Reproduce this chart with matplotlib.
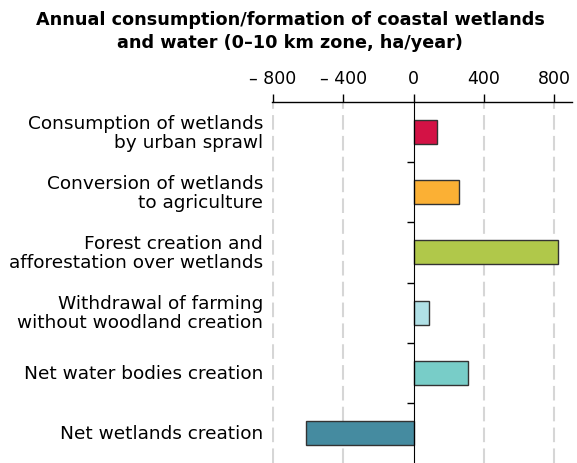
import numpy as np
import matplotlib.pyplot as plt
from matplotlib.transforms import blended_transform_factory

categories = [
    "Consumption of wetlands\nby urban sprawl",
    "Conversion of wetlands\nto agriculture",
    "Forest creation and\nafforestation over wetlands",
    "Withdrawal of farming\nwithout woodland creation",
    "Net water bodies creation",
    "Net wetlands creation",
]
values = [130, 255, 820, 90, 310, -610]
colors = ["#d31245", "#fbb034", "#b0c84a", "#b0e0e6", "#78cdc8", "#458ba0"]
xticks = [-800, -400, 0, 400, 800]
xticklabels = ["\u2013 800", "\u2013 400", "0", "400", "800"]

fig = plt.figure(figsize=(5.77, 4.64), dpi=100)
ax = fig.add_axes([272 / 577, 0, 300 / 577, 361 / 464])

y = np.arange(len(categories))
ax.barh(y, values, height=0.4, color=colors, edgecolor="#333333", linewidth=1, zorder=3)

ax.set_xlim(-805, 900)
ax.set_ylim(len(categories) - 0.5, -0.5)

# x axis on top, dashed grey grid except at zero
ax.xaxis.tick_top()
ax.set_xticks(xticks, xticklabels)
ax.tick_params(axis="x", direction="out", length=6, width=1, pad=5, labelsize=12.5, color="black")
for xv in xticks:
    if xv != 0:
        ax.axvline(xv, color="#d6d6d6", linestyle=(0, (7, 3)), linewidth=1.5, zorder=1)

ax.spines["left"].set_position(("data", 0))
ax.spines["left"].set_zorder(4)
ax.spines["right"].set_visible(False)
ax.spines["bottom"].set_visible(False)
ax.spines["top"].set_linewidth(1)

# small ticks between categories on the zero line
ax.set_yticks(np.arange(0.5, len(categories) - 0.5))
ax.set_yticklabels([])
ax.tick_params(axis="y", direction="out", length=5, width=1)

trans = blended_transform_factory(ax.transAxes, ax.transData)
for yi, label in zip(y, categories):
    ax.text(-9 / 300, yi, label, transform=trans, ha="right", va="center",
            fontsize=13.3, linespacing=1.08)

fig.suptitle("Annual consumption/formation of coastal wetlands\nand water (0\u201310 km zone, ha/year)",
             x=0.503, y=0.977, fontsize=12.7, fontweight="bold", linespacing=1.38)

fig.savefig("out.png", dpi=100)
